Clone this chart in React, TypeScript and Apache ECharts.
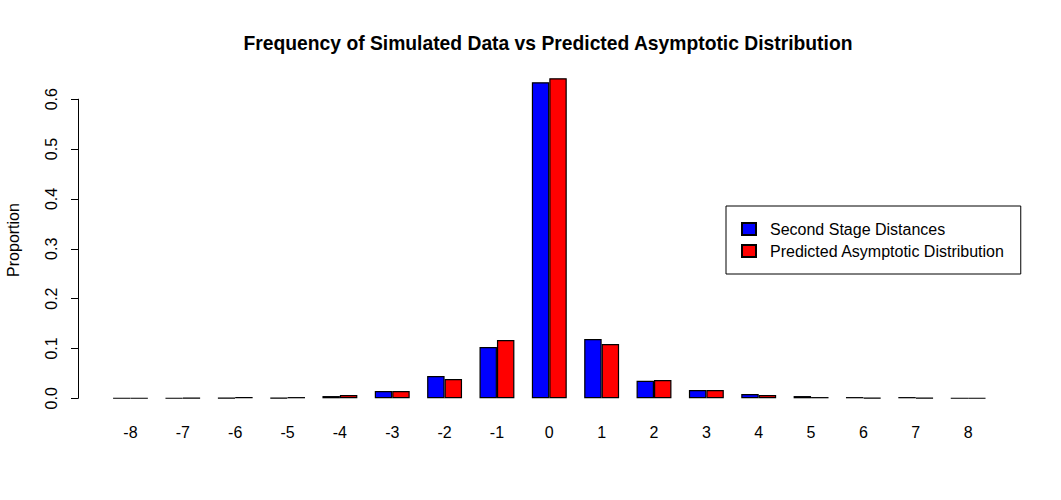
import { useEffect, useRef } from "react";
import * as echarts from "echarts";

const categories = ["-8", "-7", "-6", "-5", "-4", "-3", "-2", "-1", "0", "1", "2", "3", "4", "5", "6", "7", "8"];
const secondStage = [0.0002, 0.0003, 0.0006, 0.0008, 0.0045, 0.0145, 0.0445, 0.103, 0.634, 0.119, 0.035, 0.0165, 0.0085, 0.0045, 0.0025, 0.0025, 0.0003];
const predicted = [0.0003, 0.0006, 0.0025, 0.0025, 0.0065, 0.0145, 0.0385, 0.117, 0.642, 0.109, 0.0365, 0.0165, 0.0065, 0.0025, 0.0008, 0.0006, 0.0002];
const seriesNames = ["Second Stage Distances", "Predicted Asymptotic Distribution"];
const titleText = "Frequency of Simulated Data vs Predicted Asymptotic Distribution";
const yLabel = "Proportion";

const FONT = "'Liberation Sans', Arial, sans-serif";

export default function App() {
  const ref = useRef<HTMLDivElement>(null);
  useEffect(() => {
    const chart = echarts.init(ref.current!, null, { renderer: "svg" });
    chart.setOption({
      animation: false,
      backgroundColor: "#fff",
      textStyle: { fontFamily: FONT },
      title: {
        text: titleText,
        left: 543,
        top: 29,
        textAlign: "center",
        textStyle: { fontFamily: FONT, fontSize: 19.3, fontWeight: "bold", color: "#000" },
      },
      grid: { left: 104.3, right: 66.7, top: 99.2, bottom: 101.7, containLabel: false },
      legend: {
        orient: "vertical",
        left: 726,
        top: 206,
        padding: [14, 16, 14, 15],
        itemWidth: 14,
        itemHeight: 12,
        itemGap: 4,
        icon: "rect",
        borderColor: "#000",
        borderWidth: 1,
        borderRadius: 0,
        textStyle: { fontFamily: FONT, fontSize: 16, color: "#000", lineHeight: 18, padding: [0, 0, 0, 9] },
        data: seriesNames,
      },
      xAxis: {
        type: "category",
        data: categories,
        axisLine: { show: false, onZero: false },
        axisTick: { show: false },
        axisLabel: { color: "#000", fontSize: 16, fontFamily: FONT, margin: 26 },
      },
      yAxis: {
        type: "value",
        min: 0,
        max: 0.6,
        interval: 0.1,
        offset: 26.3,
        axisLine: { show: true, lineStyle: { color: "#000", width: 1 } },
        axisTick: { show: true, length: 7, lineStyle: { color: "#000", width: 1 } },
        splitLine: { show: false },
        axisLabel: {
          color: "#000",
          fontSize: 16,
          fontFamily: FONT,
          rotate: 90,
          margin: 19,
          formatter: (v: number) => v.toFixed(1),
        },
      },
      graphic: [
        {
          type: "text",
          x: 13,
          y: 240,
          rotation: Math.PI / 2,
          style: {
            text: yLabel,
            fontFamily: FONT,
            fontSize: 16,
            fill: "#000",
            align: "center",
            verticalAlign: "middle",
          },
        },
      ],
      series: [
        {
          name: seriesNames[0],
          type: "bar",
          data: secondStage,
          barGap: "0%",
          barCategoryGap: "33.33%",
          clip: false,
          itemStyle: { color: "#0000ff", borderColor: "#000", borderWidth: 1.2 },
        },
        {
          name: seriesNames[1],
          type: "bar",
          data: predicted,
          barGap: "0%",
          barCategoryGap: "33.33%",
          clip: false,
          itemStyle: { color: "#ff0000", borderColor: "#000", borderWidth: 1.2 },
        },
      ],
    });
    return () => chart.dispose();
  }, []);
  return (
    <div
      ref={ref}
      style={{ position: "fixed", left: 0, top: 0, width: 1061, height: 500, background: "#fff" }}
    />
  );
}
